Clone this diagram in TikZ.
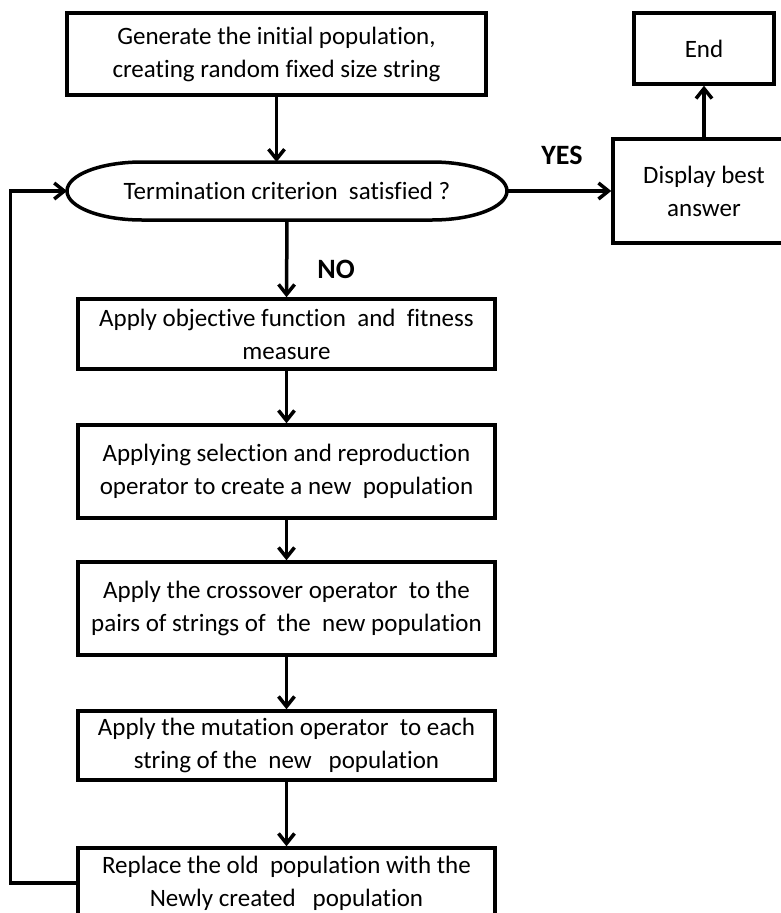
\documentclass[tikz,border=0pt]{standalone}
\usepackage{fontspec}
\setmainfont{Carlito}[Ligatures=NoCommon]
\usetikzlibrary{arrows.meta}

\begin{document}
\begin{tikzpicture}[x=1pt,y=-1pt,
		box/.style={draw,line width=3.5pt,align=center,inner sep=0pt,font=\fontsize{25}{33}\selectfont},
		flow/.style={-{Straight Barb[length=10pt,width=16pt]},line width=3.5pt},
		answer/.style={font=\fontsize{28}{33}\selectfont\bfseries}]
		\useasboundingbox (0,0) rectangle (781,913);
		\clip (0,0) rectangle (781,913);

		% Main column
		\node[box,minimum width=419pt,minimum height=82pt] (gen) at (276.5,54) {Generate the initial population,\\creating random fixed size string};
		\node[box,draw=none,outer sep=0pt,minimum width=440pt,minimum height=58pt] (term) at (287,191) {Termination criterion\ \ satisfied ?};
		\draw[line width=3.5pt,line join=round] ([xshift=75pt]term.north west) -- ([xshift=-75pt]term.north east)
			arc[start angle=90,end angle=-90,x radius=75pt,y radius=29pt] -- ([xshift=75pt]term.south west)
			arc[start angle=270,end angle=90,x radius=75pt,y radius=29pt] -- cycle;
		\node[box,minimum width=417pt,minimum height=70pt] (fit) at (286.5,334) {Apply objective function\ \ and\ \ fitness\\measure};
		\node[box,minimum width=417pt,minimum height=93pt] (sel) at (286.5,471.5) {Applying selection and reproduction\\operator to create a new\ \ population};
		\node[box,minimum width=417pt,minimum height=93pt] (cross) at (286.5,608.5) {Apply the crossover operator\ \ to the\\pairs of strings of\ \ the\ \ new population};
		\node[box,minimum width=417pt,minimum height=69pt] (mut) at (286.5,745.5) {Apply the mutation operator\ \ to each\\string of the\ \ new\ \ \ population};
		\node[box,minimum width=417pt,minimum height=70pt] (repl) at (286.5,883) {Replace the old\ \ population with the\\Newly created\ \ \ population};

		% Right side
		\node[box,minimum width=182pt,minimum height=104pt] (disp) at (704,191) {Display best\\answer};
		\node[box,minimum width=140pt,minimum height=71pt] (end) at (704,48.5) {End};

		\node[answer] (yes) at (562,155) {YES};
		\node[answer] (no) at (336,269) {NO};

		\draw[flow] (gen.south) -- (gen.south |- term.north);
		\draw[flow] (term.east) -- (disp.west);
		\draw[flow] (disp.north) -- (end.south);
		\draw[flow] (term.south) -- (fit.north);
		\draw[flow] (fit.south) -- (sel.north);
		\draw[flow] (sel.south) -- (cross.north);
		\draw[flow] (cross.south) -- (mut.north);
		\draw[flow] (mut.south) -- (repl.north);
		\draw[flow] (repl.west) -- ++(-66,0) |- (term.west);
	\end{tikzpicture}
\end{document}
